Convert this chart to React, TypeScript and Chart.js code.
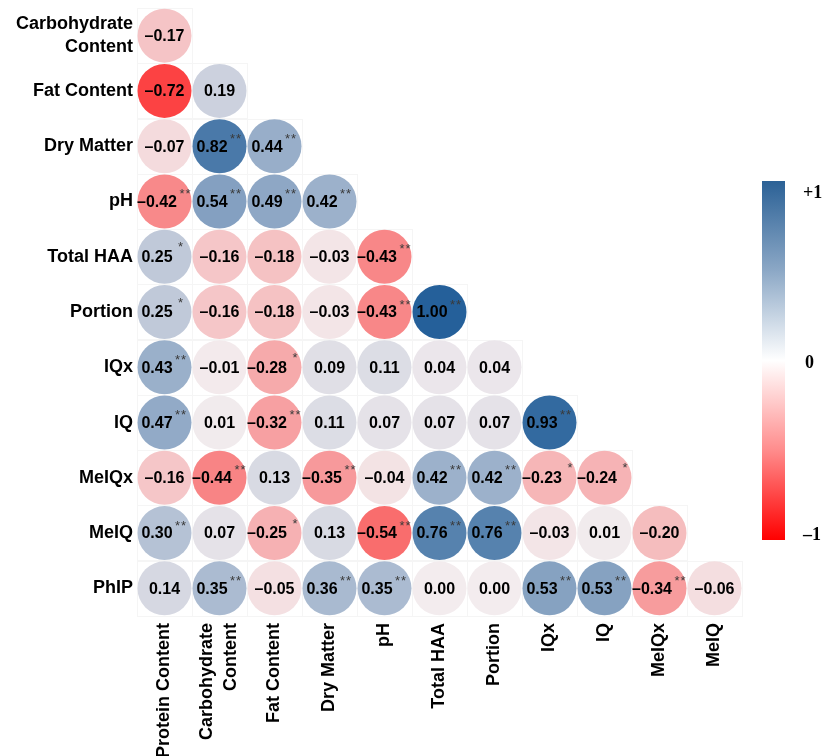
import React, { useEffect, useRef } from "react";
import { Chart, registerables } from "chart.js";
Chart.register(...registerables);

const rowLabels: (string | string[])[] = [
  ["Carbohydrate", "Content"],
  "Fat Content",
  "Dry Matter",
  "pH",
  "Total HAA",
  "Portion",
  "IQx",
  "IQ",
  "MeIQx",
  "MeIQ",
  "PhIP",
];
const colLabels: (string | string[])[] = [
  "Protein Content",
  ["Carbohydrate", "Content"],
  "Fat Content",
  "Dry Matter",
  "pH",
  "Total HAA",
  "Portion",
  "IQx",
  "IQ",
  "MeIQx",
  "MeIQ",
];

const rCarbohydrate = [-0.17];
const rFat = [-0.72, 0.19];
const rDryMatter = [-0.07, 0.82, 0.44];
const rPH = [-0.42, 0.54, 0.49, 0.42];
const rTotalHAA = [0.25, -0.16, -0.18, -0.03, -0.43];
const rPortion = [0.25, -0.16, -0.18, -0.03, -0.43, 1.0];
const rIQx = [0.43, -0.01, -0.28, 0.09, 0.11, 0.04, 0.04];
const rIQ = [0.47, 0.01, -0.32, 0.11, 0.07, 0.07, 0.07, 0.93];
const rMeIQx = [-0.16, -0.44, 0.13, -0.35, -0.04, 0.42, 0.42, -0.23, -0.24];
const rMeIQ = [0.3, 0.07, -0.25, 0.13, -0.54, 0.76, 0.76, -0.03, 0.01, -0.2];
const rPhIP = [0.14, 0.35, -0.05, 0.36, 0.35, 0.0, 0.0, 0.53, 0.53, -0.34, -0.06];

const sCarbohydrate = [""];
const sFat = ["", ""];
const sDryMatter = ["", "**", "**"];
const sPH = ["**", "**", "**", "**"];
const sTotalHAA = ["*", "", "", "", "**"];
const sPortion = ["*", "", "", "", "**", "**"];
const sIQx = ["**", "", "*", "", "", "", ""];
const sIQ = ["**", "", "**", "", "", "", "", "**"];
const sMeIQx = ["", "**", "", "**", "", "**", "**", "*", "*"];
const sMeIQ = ["**", "", "*", "", "**", "**", "**", "", "", ""];
const sPhIP = ["", "**", "", "**", "**", "", "", "**", "**", "**", ""];

const corrRows = [rCarbohydrate, rFat, rDryMatter, rPH, rTotalHAA, rPortion, rIQx, rIQ, rMeIQx, rMeIQ, rPhIP];
const sigRows = [sCarbohydrate, sFat, sDryMatter, sPH, sTotalHAA, sPortion, sIQx, sIQ, sMeIQx, sMeIQ, sPhIP];

const colorbarLabels = ["+1", "0", "\u20131"];

const SANS = '"Liberation Sans", Arial, sans-serif';
const SERIF = '"Liberation Serif", "Times New Roman", serif';

const ZERO = [243, 236, 238];
const POS = [37, 96, 154];
const NEG = [255, 0, 0];
function colorFor(v: number): string {
  const t = Math.min(1, Math.abs(v));
  const end = v >= 0 ? POS : NEG;
  const c = ZERO.map((z, i) => Math.round(z + (end[i] - z) * t));
  return `rgb(${c[0]},${c[1]},${c[2]})`;
}
function fmt(v: number): string {
  const a = Math.abs(v).toFixed(2);
  return v < 0 && a !== "0.00" ? "\u2013" + a : a;
}

const points: { x: number; y: number; v: number; s: string }[] = [];
corrRows.forEach((row, i) =>
  row.forEach((v, j) => points.push({ x: j, y: i, v, s: sigRows[i][j] }))
);

const cellPlugin = {
  id: "cells",
  beforeDatasetsDraw(chart: any) {
    const { ctx } = chart;
    const xs = chart.scales.x;
    const ys = chart.scales.y;
    ctx.save();
    ctx.strokeStyle = "#F5F5F5";
    ctx.lineWidth = 1;
    points.forEach((p) => {
      const x0 = xs.getPixelForValue(p.x - 0.5);
      const x1 = xs.getPixelForValue(p.x + 0.5);
      const y0 = ys.getPixelForValue(p.y - 0.5);
      const y1 = ys.getPixelForValue(p.y + 0.5);
      ctx.strokeRect(Math.round(x0) + 0.5, Math.round(y0) + 0.5, Math.round(x1 - x0), Math.round(y1 - y0));
    });
    ctx.restore();
  },
};

const labelPlugin = {
  id: "valueLabels",
  afterDatasetsDraw(chart: any) {
    const { ctx } = chart;
    const meta = chart.getDatasetMeta(0);
    ctx.save();
    meta.data.forEach((el: any, i: number) => {
      const p = points[i];
      const txt = fmt(p.v);
      ctx.font = `bold 16px ${SANS}`;
      ctx.fillStyle = "#000";
      ctx.textBaseline = "middle";
      const w = ctx.measureText(txt).width;
      if (p.s) {
        const slot = 14;
        const total = w + 1 + slot;
        const x0 = el.x - total / 2;
        ctx.textAlign = "left";
        ctx.fillText(txt, x0, el.y + 1);
        ctx.font = `13px ${SANS}`;
        ctx.fillStyle = "#3a3a3a";
        ctx.textAlign = "center";
        ctx.fillText(p.s.split("").join("\u200A"), x0 + w + 1 + slot / 2, el.y - (p.s.length === 1 ? 9 : 7));
      } else {
        ctx.textAlign = "center";
        ctx.fillText(txt, el.x, el.y + 1);
      }
    });
    ctx.restore();
  },
};

const xLabelPlugin = {
  id: "xLabels",
  afterDraw(chart: any) {
    const { ctx, chartArea } = chart;
    const xs = chart.scales.x;
    const lh = 24;
    ctx.save();
    ctx.font = `bold 18px ${SANS}`;
    ctx.fillStyle = "#000";
    ctx.textAlign = "right";
    ctx.textBaseline = "middle";
    colLabels.forEach((lab, j) => {
      const lines = Array.isArray(lab) ? lab : [lab];
      const x = xs.getPixelForValue(j);
      lines.forEach((line, k) => {
        const dx = (k - (lines.length - 1) / 2) * lh;
        ctx.save();
        ctx.translate(x + dx, chartArea.bottom + 7);
        ctx.rotate(-Math.PI / 2);
        ctx.fillText(line, 0, 0);
        ctx.restore();
      });
    });
    ctx.restore();
  },
};

const colorbarPlugin = {
  id: "colorbar",
  afterDraw(chart: any) {
    const { ctx, chartArea } = chart;
    const left = chartArea.right + 20;
    const width = 23;
    const top = chartArea.top + 173;
    const height = 359;
    const g = ctx.createLinearGradient(0, top, 0, top + height);
    g.addColorStop(0, "rgb(43,97,150)");
    g.addColorStop(0.25, "rgb(140,168,198)");
    g.addColorStop(0.5, "rgb(255,255,255)");
    g.addColorStop(0.75, "rgb(255,140,140)");
    g.addColorStop(1, "rgb(255,0,0)");
    ctx.save();
    ctx.fillStyle = g;
    ctx.fillRect(left, top, width, height);
    ctx.font = `bold 18px ${SERIF}`;
    ctx.fillStyle = "#000";
    ctx.textBaseline = "middle";
    ctx.textAlign = "left";
    ctx.fillText(colorbarLabels[0], left + 41, top + 12);
    ctx.fillText(colorbarLabels[1], left + 43, top + height / 2 + 3);
    ctx.fillText(colorbarLabels[2], left + 41, top + height - 5);
    ctx.restore();
  },
};

export default function App() {
  const ref = useRef<HTMLCanvasElement | null>(null);
  useEffect(() => {
    if (!ref.current) return;
    const chart = new Chart(ref.current, {
      type: "scatter",
      data: {
        datasets: [
          {
            data: points as any,
            pointRadius: 27,
            pointHoverRadius: 27,
            pointBorderWidth: 0,
            pointBackgroundColor: (c: any) => colorFor(c.raw ? c.raw.v : 0),
            borderColor: "rgba(0,0,0,0)",
          } as any,
        ],
      },
      options: {
        animation: false,
        responsive: false,
        devicePixelRatio: 1,
        events: [],
        layout: { autoPadding: false, padding: { top: 8, right: 85, left: 0, bottom: 0 } },
        plugins: { legend: { display: false }, tooltip: { enabled: false } },
        scales: {
          x: {
            type: "linear",
            position: "bottom",
            min: -0.5,
            max: 10.5,
            grid: { display: false, drawTicks: false },
            border: { display: false },
            ticks: { display: false },
            afterFit: (s: any) => {
              s.height = 140;
            },
          },
          y: {
            type: "linear",
            min: -0.5,
            max: 10.5,
            reverse: true,
            grid: { display: false, drawTicks: false },
            border: { display: false },
            afterBuildTicks: (s: any) => {
              s.ticks = rowLabels.map((_, i) => ({ value: i }));
            },
            ticks: {
              autoSkip: false,
              padding: 4,
              color: "#000",
              font: { family: SANS, size: 18, weight: "bold", lineHeight: 1.3 },
              callback: (_v: any, i: number) => rowLabels[i] as any,
            },
            afterFit: (s: any) => {
              s.width = 137;
              s.paddingTop = 0;
              s.paddingBottom = 0;
            },
          },
        },
      } as any,
      plugins: [cellPlugin, labelPlugin, xLabelPlugin, colorbarPlugin],
    });
    return () => chart.destroy();
  }, []);
  return (
    <div style={{ position: "absolute", left: 0, top: 0, width: 827, height: 756 }}>
      <canvas ref={ref} width={827} height={756} style={{ display: "block", width: 827, height: 756 }} />
    </div>
  );
}
